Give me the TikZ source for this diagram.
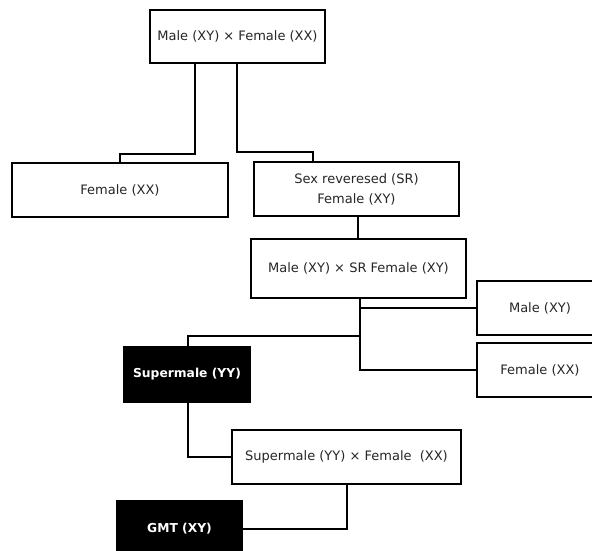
\documentclass[tikz,border=0pt]{standalone}
\usepackage{fontspec}
\setmainfont{DejaVu Sans}
\begin{document}
\begin{tikzpicture}[x=1pt,y=-1pt,
  box/.style={draw=black, line width=2pt, fill=white, inner sep=0pt, align=center,
    font=\fontsize{13}{20}\selectfont, text=black!85},
  darkbox/.style={draw=black, line width=2pt, fill=black, inner sep=0pt, align=center,
    font=\bfseries\fontsize{12.3}{15}\selectfont, text=white},
  link/.style={draw=black, line width=2pt}]
\useasboundingbox (0,0) rectangle (592,551);
\node[box, minimum width=175pt, minimum height=53pt] (top) at (237.5,36.5) {Male (XY) × Female (XX)};
\node[box, minimum width=216pt, minimum height=54pt] (femL) at (120,190) {Female (XX)};
\node[box, minimum width=205pt, minimum height=54pt] (sr) at (356.5,189) {Sex reveresed (SR)\\Female (XY)};
\node[box, minimum width=215pt, minimum height=59pt] (cross2) at (358.5,268.5) {Male (XY) × SR Female (XY)};
\node[box, minimum width=126pt, minimum height=54pt] (maleR) at (540,308) {Male (XY)};
\node[box, minimum width=126pt, minimum height=54pt] (femR) at (540,370) {Female (XX)};
\node[darkbox, minimum width=126pt, minimum height=55pt] (superm) at (187,374.5) {Supermale (YY)};
\node[box, minimum width=229pt, minimum height=54pt] (cross3) at (346.5,457) {Supermale (YY) × Female\ \ (XX)};
\node[darkbox, minimum width=125pt, minimum height=56pt] (gmt) at (179.5,529) {GMT (XY)};
\draw[link] ([xshift=-42.5pt]top.south) -- ++(0,90) -| (femL.north);
\draw[link] ([xshift=-0.5pt]top.south) |- ([xshift=-43.5pt,yshift=9pt]sr.north) -- ([xshift=-43.5pt]sr.north);
\draw[link] ([xshift=1.5pt]sr.south) -- ([xshift=1.5pt]sr.south |- cross2.north);
\draw[link] ([xshift=1.5pt]cross2.south) |- (femR.west);
\draw[link] ([xshift=1.5pt]cross2.south |- maleR.west) -- (maleR.west);
\draw[link] ([xshift=1.5pt]cross2.south) |- ([xshift=1pt,yshift=10pt]superm.north) -- ([xshift=1pt]superm.north);
\draw[link] ([xshift=1pt]superm.south) |- (cross3.west);
\draw[link] (cross3.south) |- (gmt.east);
\end{tikzpicture}
\end{document}
